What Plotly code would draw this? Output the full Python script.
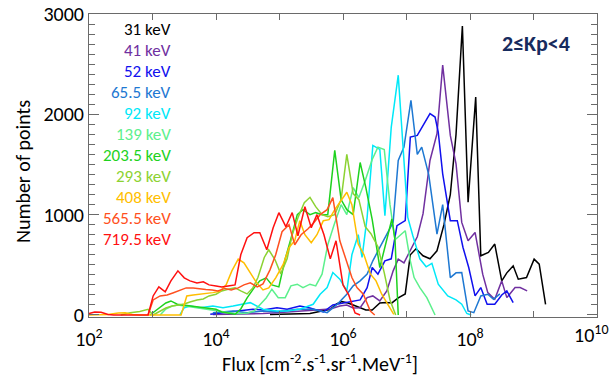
import numpy as np
import plotly.graph_objects as go

energies = ["31 keV", "41 keV", "52 keV", "65.5 keV", "92 keV", "139 keV",
            "203.5 keV", "293 keV", "408 keV", "565.5 keV", "719.5 keV"]

# log10(flux) bin positions and counts
logflux_31 = [4.85, 5.17, 5.48, 5.80, 5.90, 5.98, 6.08, 6.16, 6.25, 6.36, 6.46, 6.58, 6.68, 6.77, 6.87, 6.98,
              7.06, 7.15, 7.26, 7.37, 7.48, 7.59, 7.69, 7.78, 7.88, 7.97, 8.09, 8.17, 8.29, 8.39, 8.50, 8.58,
              8.68, 8.76, 8.89, 9.01, 9.09, 9.19]
counts_31 = [5, 10, 15, 57, 110, 133, 120, 100, 75, 50, 50, 120, 125, 120, 170, 210,
             600, 660, 590, 560, 640, 900, 1200, 1800, 2880, 1123, 2173, 590, 623, 707, 340, 420,
             490, 357, 373, 557, 507, 107]

logflux_41 = [3.95, 4.22, 4.49, 4.74, 5.01, 5.28, 5.53, 5.80, 5.95, 6.06, 6.16, 6.27, 6.38, 6.47, 6.58, 6.69,
              6.79, 6.87, 6.96, 7.06, 7.17, 7.26, 7.37, 7.48, 7.57, 7.69, 7.78, 7.87, 7.97, 8.08, 8.14, 8.20,
              8.28, 8.39, 8.50, 8.58, 8.71, 8.79, 8.90]
counts_41 = [5, 8, 10, 15, 25, 35, 50, 60, 90, 100, 70, 73, 173, 190, 140, 240,
             440, 557, 520, 640, 780, 1007, 1540, 1807, 2490, 1790, 1507, 923, 740, 823, 620, 407,
             223, 157, 340, 173, 273, 273, 240]

logflux_52 = [3.91, 4.11, 4.38, 4.58, 4.74, 4.96, 5.12, 5.32, 5.48, 5.69, 5.84, 6.00, 6.16, 6.27, 6.38, 6.46,
              6.55, 6.66, 6.76, 6.85, 6.98, 7.06, 7.17, 7.26, 7.37, 7.45, 7.50, 7.57, 7.69, 7.80, 7.89, 7.98,
              8.08, 8.17, 8.27, 8.39, 8.50, 8.58, 8.68]
counts_52 = [7, 23, 40, 57, 50, 73, 57, 90, 70, 30, 100, 120, 140, 150, 273, 473,
             407, 540, 560, 890, 940, 1773, 1790, 1890, 2007, 1973, 1823, 1407, 940, 940, 673, 473,
             190, 273, 107, 107, 200, 240, 123]

logflux_65 = [3.95, 4.27, 4.49, 4.74, 4.96, 5.28, 5.53, 5.75, 5.91, 6.06, 6.16, 6.27, 6.38, 6.47, 6.58, 6.69,
              6.79, 6.87, 6.96, 7.07, 7.17, 7.24, 7.35, 7.48, 7.57, 7.69, 7.78, 7.87, 7.97, 8.06, 8.17, 8.28,
              8.37, 8.47]
counts_65 = [23, 40, 23, 40, 33, 57, 57, 23, 107, 207, 290, 340, 407, 540, 673, 807,
             923, 1540, 1673, 2140, 1600, 1673, 1400, 807, 1100, 373, 420, 423, 40, 23, 190, 207,
             157, 210]

logflux_92 = [3.43, 3.50, 3.59, 3.75, 3.95, 4.11, 4.27, 4.43, 4.54, 4.74, 4.96, 5.12, 5.32, 5.53, 5.64, 5.75,
              5.84, 5.95, 6.06, 6.14, 6.24, 6.30, 6.38, 6.47, 6.58, 6.66, 6.76, 6.87, 6.94, 7.02, 7.10, 7.21,
              7.31, 7.40, 7.50, 7.65, 7.78, 7.87, 7.95, 8.02]
counts_92 = [0, 73, 90, 73, 90, 73, 90, 107, 123, 57, 40, 40, 57, 107, 207, 273,
             423, 357, 240, 600, 800, 573, 973, 1690, 1650, 990, 1873, 2390, 1690, 973, 790, 560,
             480, 515, 307, 190, 150, 107, 15, 0]

logflux_139 = [3.12, 3.21, 3.31, 3.40, 3.51, 3.61, 3.70, 3.81, 3.91, 4.00, 4.11, 4.20, 4.30, 4.39, 4.50, 4.60,
               4.69, 4.79, 4.88, 4.98, 5.09, 5.18, 5.28, 5.37, 5.48, 5.57, 5.67, 5.76, 5.86, 5.97, 6.06, 6.16,
               6.25, 6.35, 6.46, 6.55, 6.65, 6.74, 6.82, 6.90, 6.98, 7.06, 7.12, 7.21, 7.32, 7.45]
counts_139 = [0, 60, 90, 100, 90, 80, 75, 60, 55, 40, 30, 20, 15, 15, 20, 40,
              100, 170, 257, 173, 173, 290, 307, 273, 307, 290, 407, 700, 900, 1100, 1000, 1270,
              1170, 1340, 1550, 1673, 1650, 1100, 750, 800, 840, 540, 373, 273, 173, 0]

logflux_203 = [2.96, 3.04, 3.12, 3.21, 3.29, 3.39, 3.48, 3.59, 3.69, 3.80, 3.89, 4.00, 4.09, 4.20, 4.30, 4.39,
               4.49, 4.60, 4.69, 4.79, 4.88, 4.99, 5.09, 5.18, 5.28, 5.37, 5.48, 5.57, 5.67, 5.76, 5.87, 5.97,
               6.06, 6.16, 6.27, 6.36, 6.46, 6.58, 6.71, 6.77, 6.82, 6.87]
counts_203 = [0, 40, 73, 120, 140, 107, 100, 90, 80, 73, 60, 57, 30, 15, 7, 60,
              170, 270, 340, 370, 300, 280, 560, 760, 1000, 1050, 1000, 1020, 1000, 1000, 1640, 1150,
              1050, 1000, 1520, 1270, 950, 473, 807, 957, 740, 0]

logflux_293 = [2.50, 2.65, 2.80, 2.93, 3.01, 3.12, 3.21, 3.31, 3.40, 3.50, 3.59, 3.70, 3.80, 3.89, 4.00, 4.09,
               4.19, 4.30, 4.39, 4.49, 4.58, 4.66, 4.76, 4.83, 4.93, 5.02, 5.12, 5.20, 5.29, 5.39, 5.48, 5.57,
               5.67, 5.76, 5.87, 5.97, 6.06, 6.16, 6.25, 6.35, 6.44, 6.55, 6.65, 6.74, 6.83]
counts_293 = [0, 23, 35, 57, 0, 40, 70, 90, 100, 110, 130, 150, 160, 190, 207, 240,
              257, 270, 240, 210, 270, 373, 573, 650, 550, 410, 560, 800, 970, 1120, 1173, 1080,
              1000, 980, 1000, 1150, 1600, 1210, 1150, 880, 810, 680, 420, 150, 0]

logflux_408 = [2.00, 2.30, 2.46, 2.57, 2.68, 2.80, 3.45, 3.54, 3.64, 3.75, 3.86, 3.95, 4.06, 4.16, 4.25, 4.35,
               4.44, 4.54, 4.63, 4.74, 4.83, 4.94, 5.06, 5.15, 5.24, 5.32, 5.40, 5.50, 5.59, 5.69, 5.78, 5.87,
               5.97, 6.06, 6.14, 6.24, 6.33, 6.43, 6.52, 6.61, 6.71, 6.80]
counts_408 = [0, 5, 20, 23, 5, 0, 0, 190, 200, 207, 215, 223, 235, 300, 440, 557,
              520, 420, 330, 250, 270, 370, 507, 673, 740, 940, 800, 720, 800, 940, 950, 1050,
              1140, 1223, 1100, 707, 600, 410, 340, 207, 100, 7]

logflux_565 = [2.93, 3.01, 3.12, 3.23, 3.32, 3.43, 3.53, 3.64, 3.73, 3.84, 3.94, 4.03, 4.14, 4.24, 4.35, 4.44,
               4.54, 4.65, 4.74, 4.85, 4.94, 5.04, 5.15, 5.24, 5.34, 5.45, 5.54, 5.64, 5.75, 5.84, 5.95, 6.05,
               6.14, 6.22, 6.32, 6.43, 6.50]
counts_565 = [0, 150, 190, 200, 220, 250, 270, 270, 260, 255, 250, 240, 265, 250, 270, 300,
              320, 280, 310, 450, 600, 830, 900, 700, 800, 860, 920, 1000, 1050, 1170, 740, 540,
              373, 273, 207, 40, 0]

logflux_719 = [2.00, 2.09, 2.19, 2.30, 2.39, 2.50, 2.60, 2.69, 2.80, 2.93, 3.01, 3.10, 3.20, 3.29, 3.40, 3.50,
               3.59, 3.70, 3.80, 3.89, 4.00, 4.09, 4.19, 4.30, 4.39, 4.49, 4.60, 4.69, 4.80, 4.90, 4.99, 5.10,
               5.20, 5.29, 5.40, 5.50, 5.59, 5.70, 5.80, 5.89, 6.00, 6.09, 6.19, 6.27]
counts_719 = [15, 30, 28, 5, 0, 0, 0, 0, 0, 0, 190, 280, 230, 340, 440, 370,
              340, 320, 330, 300, 290, 280, 290, 300, 600, 770, 820, 820, 650, 870, 1020, 880,
              1020, 790, 1080, 870, 1000, 800, 560, 740, 300, 200, 20, 0]

x_tick_powers = [2, 3, 4, 5, 6, 7, 8, 9, 10]
y_tick_values = [0, 1000, 2000, 3000]

series_logflux = [logflux_31, logflux_41, logflux_52, logflux_65, logflux_92, logflux_139,
                  logflux_203, logflux_293, logflux_408, logflux_565, logflux_719]
series_counts = [counts_31, counts_41, counts_52, counts_65, counts_92, counts_139,
                 counts_203, counts_293, counts_408, counts_565, counts_719]

colors = ["#000000", "#7030A0", "#1010EE", "#1E78D2", "#00E8F8", "#5CF08C",
          "#1ED21E", "#8CD232", "#FFBE00", "#FF5020", "#FF1010"]

FONT = "Calibri, Carlito, Lato, sans-serif"
AXC = "#6a6a6a"

fig = go.Figure()
for lf, cnt, col, name in zip(series_logflux, series_counts, colors, energies):
    fig.add_trace(go.Scatter(x=10 ** np.array(lf), y=cnt, mode="lines", name=name,
                             line=dict(color=col, width=1.5), showlegend=False))

# energy labels (legend as coloured text)
for i, (name, col) in enumerate(zip(energies, colors)):
    fig.add_annotation(text=name, xref="paper", yref="paper",
                       x=(173 - 89) / 508, y=(317 - (29 + 21.1 * i)) / 303,
                       xanchor="right", yanchor="middle", showarrow=False,
                       font=dict(family=FONT, size=17, color=col))

fig.add_annotation(text="<b>2≤Kp<4</b>", xref="paper", yref="paper",
                   x=(536 - 89) / 508, y=(317 - 43) / 303, xanchor="center", yanchor="middle",
                   showarrow=False, font=dict(family=FONT, size=22, color="#172B5E"))

# axis titles
fig.add_annotation(text="Flux [cm<sup>-2</sup>.s<sup>-1</sup>.sr<sup>-1</sup>.MeV<sup>-1</sup>]",
                   xref="paper", yref="paper", x=(320 - 89) / 508, y=(317 - 363) / 303,
                   xanchor="center", yanchor="middle", showarrow=False,
                   font=dict(family=FONT, size=20, color="black"))
fig.add_annotation(text="Number of points", textangle=-90,
                   xref="paper", yref="paper", x=(23 - 89) / 508, y=(317 - 172) / 303,
                   xanchor="center", yanchor="middle", showarrow=False,
                   font=dict(family=FONT, size=20, color="black"))

# last x tick label, kept inside the picture edge
last_p = x_tick_powers[-1]
fig.add_annotation(text=f"10<sup>{last_p}</sup>", xref="paper", yref="paper",
                   x=(610 - 89) / 508, y=(317 - 334) / 303, xanchor="right", yanchor="middle",
                   showarrow=False, font=dict(family=FONT, size=20, color="black"))

fig.update_layout(
    width=612, height=377,
    margin=dict(l=89, r=15, t=14, b=60, autoexpand=False),
    paper_bgcolor="white", plot_bgcolor="white",
    font=dict(family=FONT, color="black"),
    showlegend=False,
)
fig.update_xaxes(
    type="log", range=[1.9999, 10.0001],
    tickvals=[10 ** p for p in x_tick_powers],
    ticktext=[f"10<sup>{p}</sup>" if (p % 2 == 0 and p != last_p) else "" for p in x_tick_powers],
    ticks="inside", ticklen=6, tickcolor=AXC, tickwidth=1,
    showline=True, linecolor=AXC, linewidth=1, mirror="allticks",
    showgrid=False, zeroline=False, automargin=False, ticklabelstandoff=4,
    ticklabeloverflow="allow",
    tickfont=dict(family=FONT, size=20, color="black"),
)
fig.update_yaxes(
    range=[-20, 3000],
    tickvals=y_tick_values,
    ticks="inside", ticklen=10, tickcolor=AXC, tickwidth=1,
    minor=dict(dtick=100, tick0=0, ticks="inside", ticklen=6, tickcolor=AXC, tickwidth=1),
    showline=True, linecolor=AXC, linewidth=1, mirror="allticks",
    showgrid=False, zeroline=False, automargin=False,
    tickfont=dict(family=FONT, size=20, color="black"),
)

fig.write_html("out.html")
